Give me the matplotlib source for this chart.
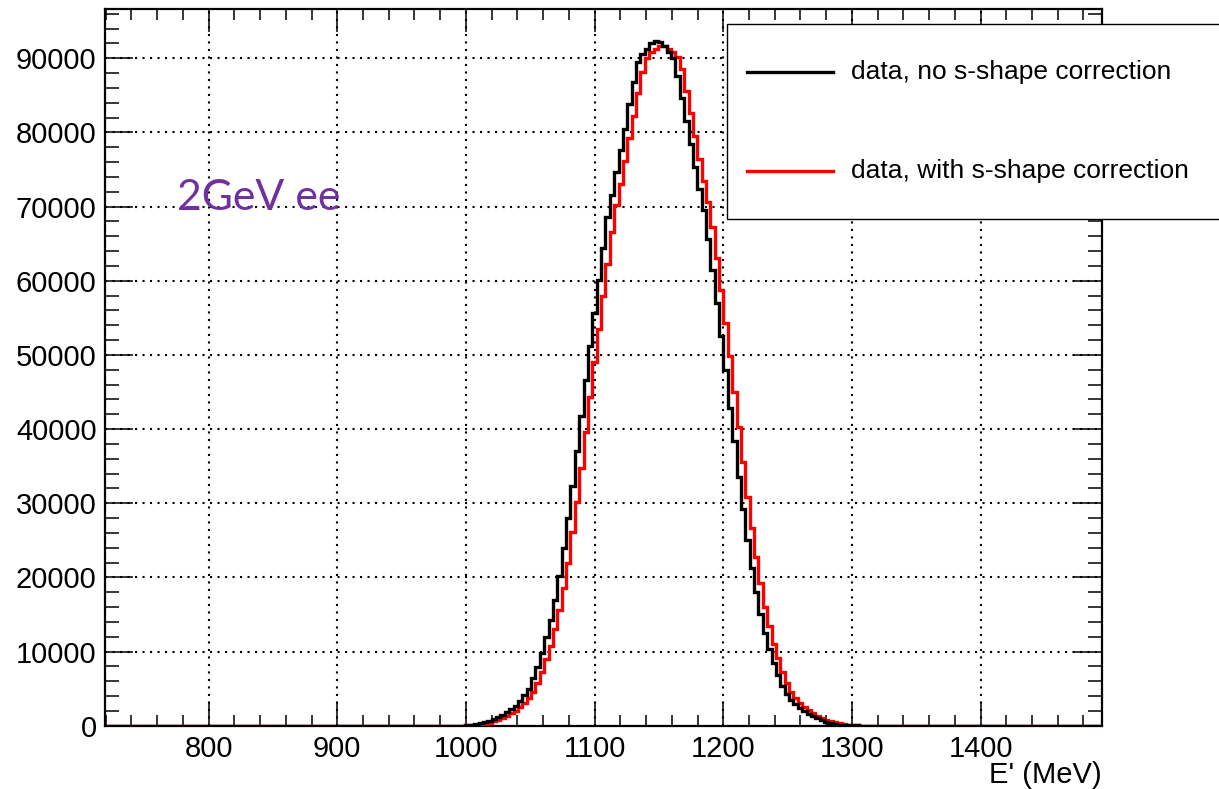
import numpy as np
import matplotlib
matplotlib.use("Agg")
import matplotlib.pyplot as plt
from matplotlib.lines import Line2D
from matplotlib.patches import Rectangle
from matplotlib.ticker import MultipleLocator

plt.rcParams["font.family"] = ["Liberation Sans", "DejaVu Sans"]

# Histogram binning (MeV)
bin_width = 3.4
first_edge = 999.6
axis_lo, axis_hi = 720.8, 1495.6

# Counts per bin, starting at first_edge
no_correction = [
    90, 140, 220, 350, 480, 670, 920, 1170, 1450, 1900,
    2250, 2700, 3300, 4100, 5000, 6500, 7900, 9800, 11900, 14300,
    17000, 20200, 24000, 28000, 32300, 37000, 41800, 46600, 51200, 55700,
    60100, 64400, 68600, 71600, 74600, 77600, 80500, 83800, 86800, 89500,
    90600, 91300, 92000, 92300, 92200, 91600, 90800, 90100, 87600, 84600,
    81500, 78500, 75400, 72400, 69600, 65600, 61400, 57000, 52500, 47900,
    42900, 38400, 33600, 29200, 25100, 21200, 18000, 15000, 12500, 10400,
    8500, 6800, 5300, 4300, 3500, 2900, 2400, 2000, 1600, 1250,
    980, 740, 530, 380, 250, 160, 100, 70, 50, 30,
]
with_correction = [
    60, 80, 100, 190, 270, 410, 570, 800, 1040, 1320,
    1700, 2050, 2500, 3050, 3700, 4600, 5700, 7200, 9000, 10700,
    13100, 15600, 18600, 22000, 26100, 30100, 34800, 39600, 44300, 49000,
    53500, 58000, 62300, 66600, 70200, 73100, 76100, 79200, 82200, 85300,
    88200, 90000, 90900, 91300, 91600, 91600, 91300, 90900, 90200, 88600,
    85600, 82600, 79500, 76400, 73400, 70600, 67300, 63000, 58800, 54300,
    49800, 45000, 40300, 35600, 30900, 26700, 22800, 19200, 16000, 13400,
    11000, 9100, 7200, 5700, 4600, 3700, 3000, 2500, 2100, 1700,
    1370, 1080, 830, 600, 440, 310, 200, 120, 80, 60,
]

series_labels = ["data, no s-shape correction", "data, with s-shape correction"]
series_colors = ["black", "red"]

x_ticks = [800, 900, 1000, 1100, 1200, 1300, 1400]
y_ticks = [0, 10000, 20000, 30000, 40000, 50000, 60000, 70000, 80000, 90000]


def padded(values):
    n_left = int(round((first_edge - axis_lo) / bin_width))
    n_total = int(np.ceil((axis_hi - axis_lo) / bin_width)) + 1
    n_right = n_total - n_left - len(values)
    counts = np.concatenate([np.zeros(n_left), np.asarray(values, float), np.zeros(n_right)])
    edges = axis_lo + bin_width * np.arange(len(counts) + 1)
    return counts, edges


fig = plt.figure(figsize=(12.19, 7.89), dpi=100)
ax = fig.add_axes([0.0861, 0.0802, 0.8179, 0.9080])

lw = 2.4
c_red, e_red = padded(with_correction)
ax.stairs(c_red, e_red, baseline=None, color=series_colors[1], linewidth=lw, zorder=3)
c_blk, e_blk = padded(no_correction)
ax.stairs(c_blk, e_blk, baseline=None, color=series_colors[0], linewidth=lw, zorder=4)

ax.set_xlim(719.4, 1494.4)
ax.set_ylim(0, 96600)

ax.set_xticks(x_ticks)
ax.set_xticklabels([str(t) for t in x_ticks])
ax.set_yticks(y_ticks)
ax.set_yticklabels([str(t) for t in y_ticks])
ax.xaxis.set_minor_locator(MultipleLocator(20))
ax.yaxis.set_minor_locator(MultipleLocator(2000))

ax.tick_params(axis="both", which="both", direction="in", top=True, right=True,
               labelsize=21, width=1.1, colors="black")
ax.tick_params(axis="x", which="major", length=16.5, pad=7)
ax.tick_params(axis="x", which="minor", length=8)
ax.tick_params(axis="y", which="major", length=20, pad=6)
ax.tick_params(axis="y", which="minor", length=10)

for sp in ax.spines.values():
    sp.set_linewidth(1.6)

ax.grid(True, which="major", color="black", linestyle=(0, (1.0, 2.6)), linewidth=1.5)
ax.set_axisbelow(True)

fig.text(0.9040, 0.0177, "E' (MeV)", ha="right", va="center", fontsize=21)

fig.text(176.7 / 1219, 1 - 210 / 789, "2GeV ee", family=["Lato", "DejaVu Sans"],
         fontsize=30.8, color="#7030A0", ha="left", va="baseline")

# Legend box, running off the right edge
box = Rectangle((727 / 1219, 1 - 219 / 789), 0.5, (219 - 24) / 789,
                transform=fig.transFigure, facecolor="white", edgecolor="black",
                linewidth=1.0, zorder=10)
fig.add_artist(box)
for i, (lab, col) in enumerate(zip(series_labels, series_colors)):
    y = 1 - (72.3 + i * 98.5) / 789
    fig.add_artist(Line2D([747 / 1219, 833 / 1219], [y, y], transform=fig.transFigure,
                          color=col, linewidth=lw, zorder=11))
    fig.text(850.7 / 1219, y, lab, ha="left", va="center", fontsize=19, zorder=12)

fig.savefig("out.png", dpi=100)
